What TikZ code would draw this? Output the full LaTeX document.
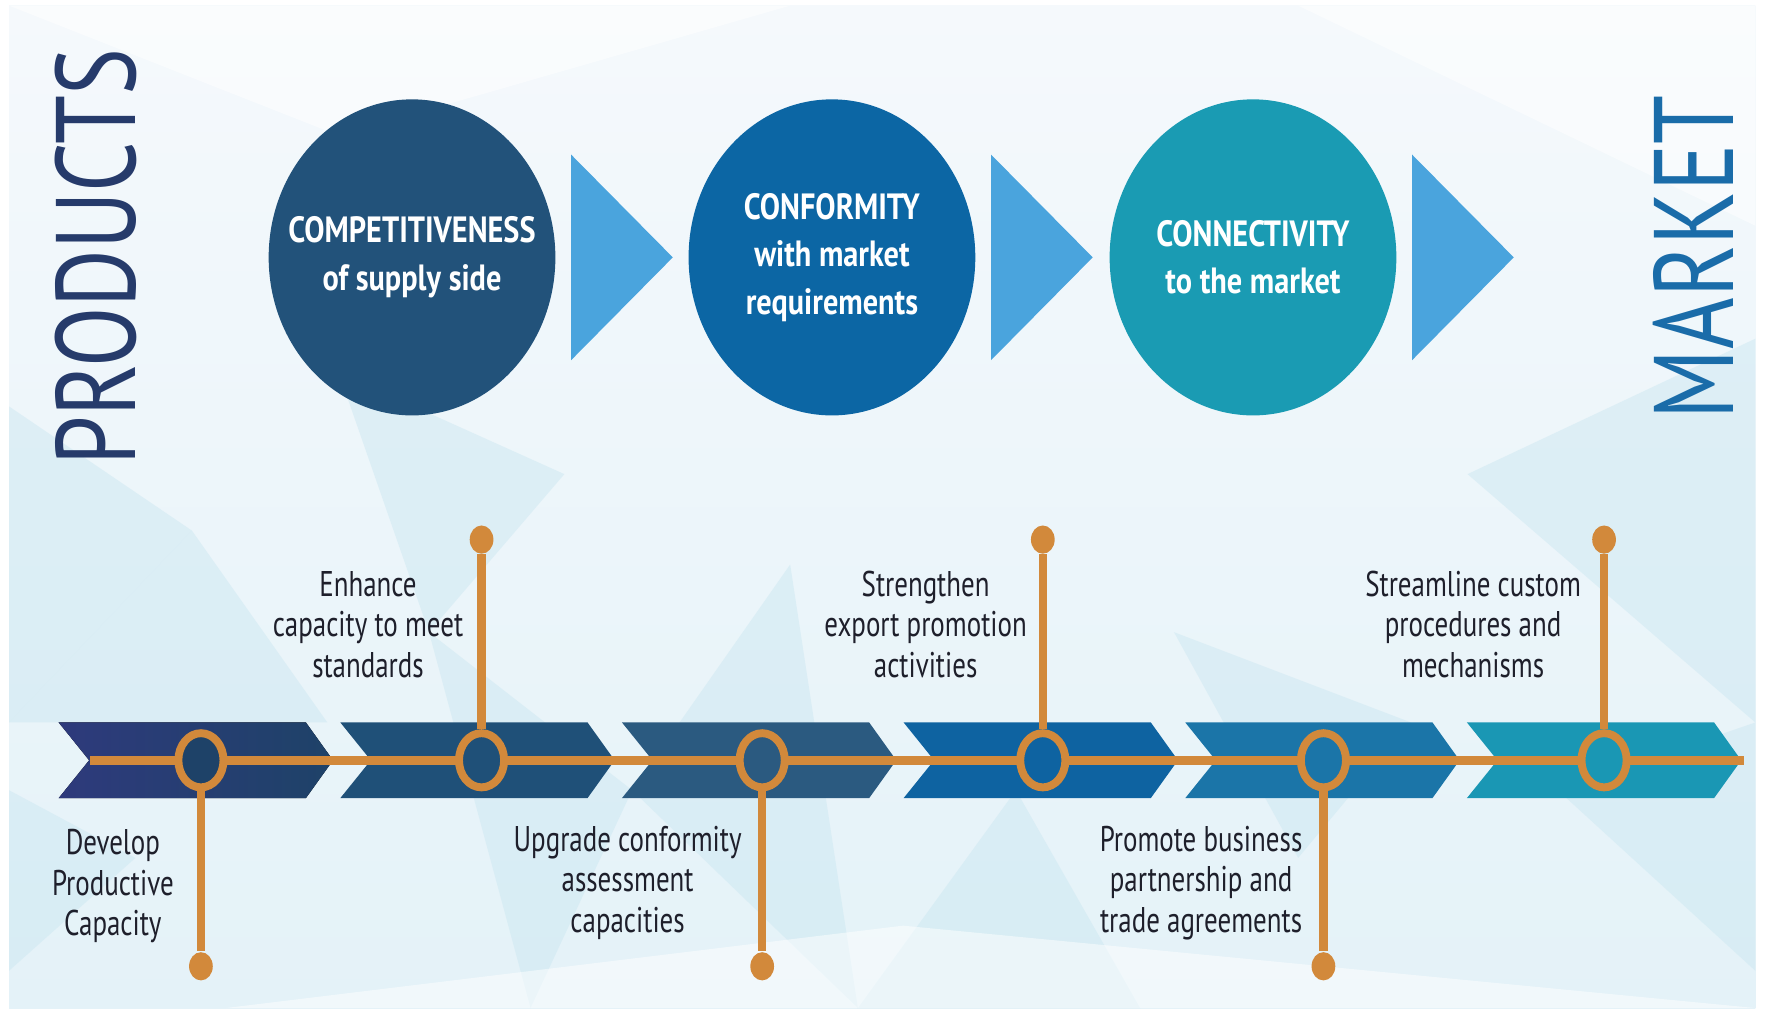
\documentclass[tikz,border=0pt]{standalone}
\usepackage{fontspec}
\setmainfont{PT Sans}[FakeStretch=0.755]
\newfontfamily\headfont{PT Sans}[FakeStretch=0.83]
\newfontfamily\sidefont{PT Sans}[FakeStretch=0.78]
\usepackage{tikz}
\usetikzlibrary{calc}
\usetikzlibrary{shapes.geometric}

\definecolor{bgtop}{HTML}{F5F9FC}
\definecolor{bgbot}{HTML}{E4F2F8}
\definecolor{poly}{HTML}{C9E6F1}
\definecolor{prodcol}{HTML}{263B6B}
\definecolor{marketcol}{HTML}{1A6CA9}
\definecolor{bigA}{HTML}{22527A}
\definecolor{bigB}{HTML}{0C66A4}
\definecolor{bigC}{HTML}{1A9BB3}
\definecolor{tricol}{HTML}{4AA4DD}
\definecolor{chv0}{HTML}{2E3A7C}
\definecolor{chv1}{HTML}{1E4268}
\definecolor{chv2}{HTML}{1F5078}
\definecolor{chv3}{HTML}{2B5A80}
\definecolor{chv4}{HTML}{0E63A1}
\definecolor{chv5}{HTML}{1B75A8}
\definecolor{chv6}{HTML}{1A97B4}
\definecolor{orng}{HTML}{D2893B}
\definecolor{labtext}{HTML}{1E1F2B}

\tikzset{
  bigcirc/.style={ellipse, fill=#1, minimum width=25.4mm, minimum height=28mm, inner xsep=-6mm, inner ysep=0pt,
    text=white, align=center, font=\headfont\bfseries\fontsize{9.2}{12}\selectfont},
  arrowtri/.style={fill=tricol},
  sidetitle/.style={rotate=90, font=\sidefont\fontsize{28.5}{30}\selectfont, inner sep=0pt},
  tring/.style={ellipse, draw=orng, line width=0.7mm, fill=#1, minimum width=4mm, minimum height=4.8mm, inner sep=0pt},
  tdot/.style={ellipse, fill=orng, minimum width=2.1mm, minimum height=2.5mm, inner sep=0pt},
  tstem/.style={draw=orng, line width=0.75mm},
  steplabel/.style={align=center, text=labtext, font=\fontsize{9}{10.2}\selectfont, inner sep=0pt},
  chevA/.style={left color=chv0, right color=chv1},
  chevB/.style={fill=chv2}, chevC/.style={fill=chv3}, chevD/.style={fill=chv4},
  chevE/.style={fill=chv5}, chevF/.style={fill=chv6},
}

\begin{document}
\begin{tikzpicture}[x=0.1mm, y=-0.1mm]
\useasboundingbox (0,0) rectangle (1568,899);
\fill[white] (0,0) rectangle (1568,899);
\shade[top color=bgtop, bottom color=bgbot] (8,5) rectangle (1555,893);
\begin{scope}[opacity=.45]
 \fill[poly] (8,360) -- (170,470) -- (8,640) -- cycle;
 \fill[poly] (8,640) -- (170,470) -- (290,640) -- cycle;
 \fill[poly] (8,700) -- (120,760) -- (8,860) -- cycle;
 \fill[poly] (380,560) -- (560,700) -- (470,893) -- cycle;
 \fill[poly] (560,700) -- (700,500) -- (760,893) -- cycle;
 \fill[poly] (760,893) -- (900,700) -- (1010,893) -- cycle;
 \fill[poly] (1040,560) -- (1250,640) -- (1150,760) -- cycle;
 \fill[poly] (1300,420) -- (1555,300) -- (1555,640) -- cycle;
 \fill[poly] (1380,700) -- (1555,640) -- (1555,860) -- cycle;
 \fill[poly] (300,330) -- (500,420) -- (380,560) -- cycle;
\end{scope}
\begin{scope}[opacity=.5]
 \fill[white] (8,5) -- (700,5) -- (300,120) -- cycle;
 \fill[white] (1150,5) -- (1555,5) -- (1555,200) -- cycle;
 \fill[white] (200,893) -- (800,820) -- (1555,893) -- cycle;
\end{scope}

\node[sidetitle, text=prodcol] (products) at (85,228) {PRODUCTS};
\node[sidetitle, text=marketcol] (market) at (1500,228) {MARKET};

\node[bigcirc=bigA] (c1) at (365,228) {COMPETITIVENESS\\of supply side};
\node[bigcirc=bigB] (c2) at (737,228) {CONFORMITY\\with market\\requirements};
\node[bigcirc=bigC] (c3) at (1110,228) {CONNECTIVITY\\to the market};
\foreach \n in {c1,c2,c3} {
 \fill[arrowtri] ($(\n)+(141,-91)$) --++(90,91) --++(-90,91) -- cycle;
}

\foreach \i/\sty in {0/chevA,1/chevB,2/chevC,3/chevD,4/chevE,5/chevF} {
 \pgfmathsetmacro\xs{52+249.5*\i}
 \fill[\sty] (\xs,640) --++(219,0) --++(24,33.5) --++(-24,33.5) --++(-219,0) --++(27,-33.5) -- cycle;
}
\coordinate (lstart) at (80,673.5);
\coordinate (lend) at (1545,673.5);
\draw[tstem] (lstart) -- (lend);

\foreach \i in {1,...,6} {
 \pgfmathsetmacro\xm{178+248.6*(\i-1)}
 \node[tring=chv\i] (m\i) at (\xm,673.5) {};
}
\foreach \i in {1,3,5} {
 \pgfmathsetmacro\xm{178+248.6*(\i-1)}
 \node[tdot] (d\i) at (\xm,856) {};
 \draw[tstem] (m\i) -- (d\i);
}
\foreach \i in {2,4,6} {
 \pgfmathsetmacro\xm{178+248.6*(\i-1)}
 \node[tdot] (d\i) at (\xm,478) {};
 \draw[tstem] (m\i) -- (d\i);
}

\node[steplabel] (l1) at (100,785) {Develop\\Productive\\Capacity};
\node[steplabel] (l2) at (326,553) {Enhance\\capacity to meet\\standards};
\node[steplabel] (l3) at (556,782) {Upgrade conformity\\assessment\\capacities};
\node[steplabel] (l4) at (820,553) {Strengthen\\export promotion\\activities};
\node[steplabel] (l5) at (1064,782) {Promote business\\partnership and\\trade agreements};
\node[steplabel] (l6) at (1305,553) {Streamline custom\\procedures and\\mechanisms};
\end{tikzpicture}
\end{document}
